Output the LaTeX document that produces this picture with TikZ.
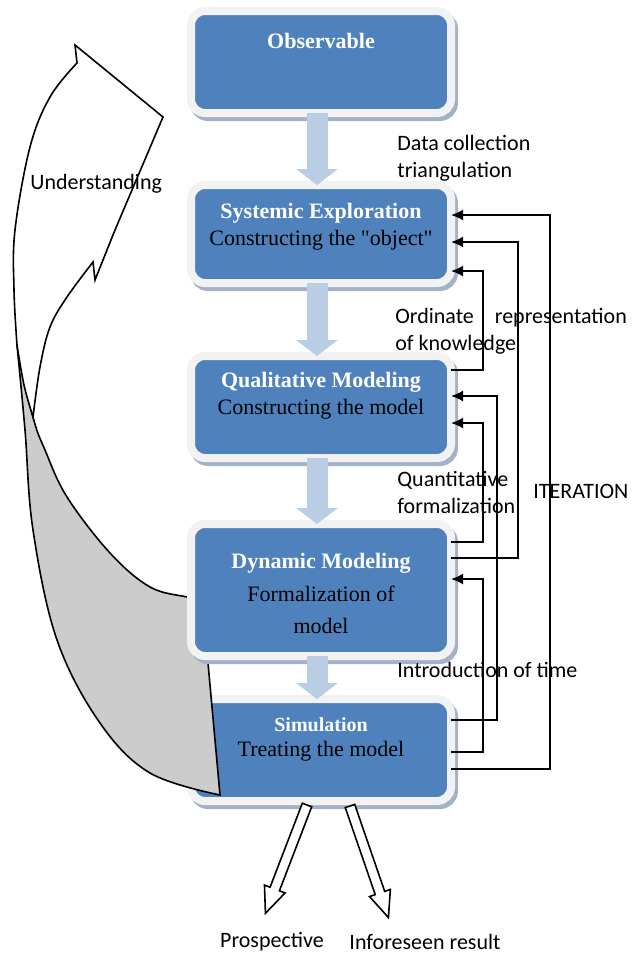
\documentclass[tikz,border=0pt]{standalone}
\usepackage{fontspec}
\setmainfont{Liberation Serif}
\newfontfamily\notefont{Carlito}
\usetikzlibrary{arrows.meta,shadows}

\definecolor{boxblue}{HTML}{4F81BD}
\definecolor{boxrim}{HTML}{F2F2F2}
\definecolor{boxshadow}{HTML}{A3B1C9}
\definecolor{flowblue}{HTML}{B9CDE5}
\definecolor{ribbongray}{HTML}{CCCCCC}

\begin{document}
\begin{tikzpicture}[x=0.5pt,y=-0.5pt,
  stage/.style={draw=boxrim, line width=4pt, fill=boxblue, rounded corners=7pt,
    minimum width=130pt, inner sep=0pt, outer sep=0pt,
    drop shadow={shadow xshift=1.5pt, shadow yshift=-2pt, opacity=1,
      fill=boxshadow, draw=boxshadow, line width=4pt}},
  boxtext/.style={align=center, inner sep=0pt, font=\fontsize{11}{13.5}\selectfont},
  flow/.style={line width=10.5pt, draw=flowblue, -{Triangle[length=8pt, width=20.5pt]}},
  link/.style={line width=0.9pt, -{Latex[length=6pt, width=5.5pt]}},
  hollow/.style={draw, line width=0.8pt, fill=white, line join=miter},
  note/.style={font=\notefont\fontsize{11}{13.5}\selectfont, align=left, anchor=west, inner sep=0pt}]
\useasboundingbox (0,0) rectangle (642,953);

\node[stage, minimum height=51pt] (sim) at (321,750) {};

% understanding ribbon
\filldraw[fill=ribbongray, line width=0.8pt]
  (220,795) -- plot[smooth, tension=0.6] coordinates {(220,795) (150,773) (100,723) (57,640) (33,530) (25,430) (17,345)}
  -- plot[smooth, tension=0.6] coordinates {(17,345) (33,417) (45,450) (67,497) (110,553) (150,587) (187,597) (200,600)}
  -- (208,663) -- cycle;
\filldraw[fill=white, line width=0.8pt, line join=miter]
  (17,345) -- plot[smooth, tension=0.6] coordinates {(17,345) (14,290) (15,230) (30,147) (50,97) (77,63)}
  -- (75,45) -- (163,117) -- (115,230) -- (95,280) -- (93,262)
  -- plot[smooth, tension=0.6] coordinates {(93,262) (67,297) (50,327) (40,367) (33,417)}
  -- plot[smooth, tension=0.6] coordinates {(33,417) (24,385) (17,345)} -- cycle;

\node[stage, minimum height=51pt] (obs) at (321,62) {};
\node[stage, minimum height=49pt] (sys) at (321,234) {};
\node[stage, minimum height=51pt] (qual) at (321,407) {};
\node[stage, minimum height=66pt] (dyn) at (321,590) {};

\draw[flow] ([xshift=-2pt]obs.south) -- ([xshift=-2pt]sys.north);
\draw[flow] ([xshift=-2pt]sys.south) -- ([xshift=-2pt]qual.north);
\draw[flow] ([xshift=-2pt]qual.south) -- ([xshift=-2pt]dyn.north);
\draw[flow] ([xshift=-2pt]dyn.south) -- ([xshift=-2pt]sim.north);

\node[boxtext] (obsT) at (321,41) {\bfseries\color{white}Observable};
\node[boxtext] (sysT) at (321,226.5) {\textcolor{white}{\bfseries Systemic Exploration}\\Constructing the \textquotedbl object\textquotedbl};
\node[boxtext] (qualT) at (321,395.5) {\textcolor{white}{\bfseries Qualitative Modeling}\\Constructing the model};
\node[boxtext] (dynT) at (321,593.5) {\textcolor{white}{\bfseries Dynamic Modeling}\\[2.75pt]Formalization of\\[2.75pt]model};
\node[boxtext] (simT) at (321,739) {\textcolor{white}{\fontsize{10}{12}\selectfont\bfseries Simulation}\\[-1pt]Treating the model};

% feedback lines
\draw[link] (sim.east |- 0,769) -| (550,215) -- (sys.east |- 0,215);
\draw[link] (dyn.east |- 0,558) -| (518,242) -- (sys.east |- 0,242);
\draw[link] (qual.east |- 0,370) -| (483,271) -- (sys.east |- 0,271);
\draw[link] (sim.east |- 0,720) -| (497,396) -- (qual.east |- 0,396);
\draw[link] (dyn.east |- 0,542) -| (483,423) -- (qual.east |- 0,423);
\draw[link] (sim.east |- 0,752) -| (483,579) -- (dyn.east |- 0,579);

\node[note] (datacol) at (397,158.5) {Data collection\\triangulation};
\node[note] (ordrep) at (395,331.5) {Ordinate\hspace{8pt} representation\\of knowledge};
\node[note] (quantf) at (397,492.5) {Quantitative\\formalization};
\node[note] (iter) at (533,491) {ITERATION};
\node[note] (timeintro) at (397,670) {Introduction of time};
\node[note] (underst) at (30,184) {Understanding};

% outputs
\begin{scope}[shift={(307,805)}, rotate=-21]
\draw[hollow] (-5,0) -- (5,0) -- (5,90) -- (11,90) -- (0,116) -- (-11,90) -- (-5,90) -- cycle;
\end{scope}
\begin{scope}[shift={(350,806)}, rotate=19]
\draw[hollow] (-5,0) -- (5,0) -- (5,92) -- (11,92) -- (0,118) -- (-11,92) -- (-5,92) -- cycle;
\end{scope}
\node[note, anchor=center] (prosp) at (272,942) {Prospective};
\node[note, anchor=center] (unfor) at (425,942) {Inforeseen result};
\end{tikzpicture}
\end{document}
